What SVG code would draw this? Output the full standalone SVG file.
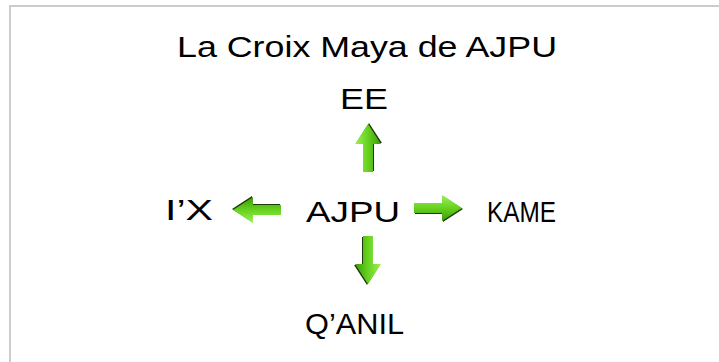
<svg xmlns="http://www.w3.org/2000/svg" width="719" height="362" viewBox="0 0 719 362">
<style>
  .t { font-family: "Liberation Sans", Arial, sans-serif; font-size: 30px; fill: #000; text-anchor: start; }
  .frame { stroke: #cccccc; stroke-width: 2; fill: none; }
</style>
<defs>
  <linearGradient id="g" x1="0" y1="0" x2="0" y2="1">
    <stop offset="0" stop-color="#9ef05a"/>
    <stop offset="0.5" stop-color="#66d21e"/>
    <stop offset="1" stop-color="#3c9a0c"/>
  </linearGradient>
  <!-- arrow pointing right, tip at 0,0 -->
  <g id="arrow">
    <polygon points="-48,-4 -20,-4 -20,-12 0,1 -20,14 -20,6 -48,6" fill="#1f3a08"/>
    <polygon points="-49,-5 -21,-5 -21,-13 -1,0 -21,13 -21,5 -49,5" fill="url(#g)"/>
  </g>
</defs>
<rect width="719" height="362" fill="#ffffff"/>
<path class="frame" d="M10,362 V6 H719"/>
<g id="title"><text class="t" x="177" y="57" textLength="380" lengthAdjust="spacingAndGlyphs">La Croix Maya de AJPU</text></g>
<g id="node-ee"><text class="t" x="340" y="109" textLength="48" lengthAdjust="spacingAndGlyphs">EE</text></g>
<g id="node-ix"><text class="t" x="165" y="220" textLength="48" lengthAdjust="spacingAndGlyphs">I’X</text></g>
<g id="node-ajpu"><text class="t" x="306" y="222" textLength="94" lengthAdjust="spacingAndGlyphs">AJPU</text></g>
<g id="node-kame"><text class="t" x="487" y="222" textLength="69" lengthAdjust="spacingAndGlyphs">KAME</text></g>
<g id="node-qanil"><text class="t" x="305" y="334" textLength="99" lengthAdjust="spacingAndGlyphs">Q’ANIL</text></g>
<g id="connectors">
  <use href="#arrow" transform="translate(368,123) rotate(-90)"/>
  <use href="#arrow" transform="translate(463,208)"/>
  <use href="#arrow" transform="translate(232,210) rotate(180)"/>
  <use href="#arrow" transform="translate(368,285) rotate(90)"/>
</g>
</svg>
